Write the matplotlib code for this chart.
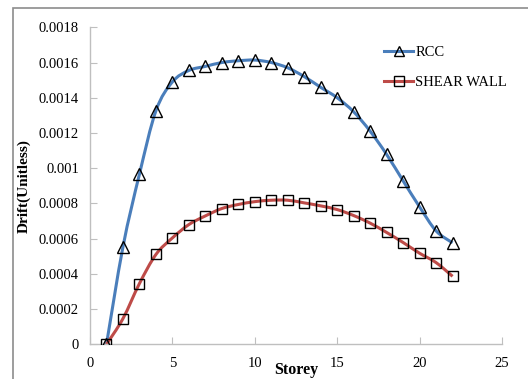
import numpy as np
import matplotlib.pyplot as plt
from matplotlib.path import Path
from matplotlib.patches import PathPatch, Rectangle
from matplotlib.lines import Line2D

plt.rcParams['font.family'] = ['Liberation Serif', 'DejaVu Serif']

storey = [1, 2, 3, 4, 5, 6, 7, 8, 9, 10, 11, 12, 13, 14, 15, 16, 17, 18, 19, 20, 21, 22]
rcc = [0.0, 0.000553, 0.000966, 0.001326, 0.00149, 0.001555, 0.001578, 0.0016,
       0.00161, 0.001614, 0.0016, 0.00157, 0.00152, 0.001459, 0.0014, 0.00132,
       0.00121, 0.001078, 0.000928, 0.00078, 0.000644, 0.000576]
shear_wall = [0.0, 0.000146, 0.000345, 0.00051, 0.000604, 0.00068, 0.000729, 0.000771,
              0.000794, 0.00081, 0.000818, 0.000818, 0.000803, 0.000786, 0.000765,
              0.000731, 0.000688, 0.000635, 0.000578, 0.000517, 0.000464, 0.000386]

blue = '#4a7ebb'
red = '#be4b48'
grey = '#bfbfbf'


def smooth_path(x, y):
    # cubic bezier segments through the points (catmull-rom tangents), like a spreadsheet "smoothed line"
    x = np.asarray(x, float)
    y = np.asarray(y, float)
    verts = [(x[0], y[0])]
    codes = [Path.MOVETO]
    n = len(x)
    for i in range(n - 1):
        p0 = (x[max(i - 1, 0)], y[max(i - 1, 0)])
        p1 = (x[i], y[i])
        p2 = (x[i + 1], y[i + 1])
        p3 = (x[min(i + 2, n - 1)], y[min(i + 2, n - 1)])
        c1 = (p1[0] + (p2[0] - p0[0]) / 6, p1[1] + (p2[1] - p0[1]) / 6)
        c2 = (p2[0] - (p3[0] - p1[0]) / 6, p2[1] - (p3[1] - p1[1]) / 6)
        verts += [c1, c2, p2]
        codes += [Path.CURVE4] * 3
    return Path(verts, codes)


fig = plt.figure(figsize=(5.28, 3.79), dpi=100)
ax = fig.add_axes([90 / 528, 1 - 344.3 / 379, 412 / 528, 317 / 379])

for vals, col, mk in [(rcc, blue, '^'), (shear_wall, red, 's')]:
    ax.add_patch(PathPatch(smooth_path(storey, vals), facecolor='none',
                           edgecolor=col, lw=2.2, zorder=2))
    ax.plot(storey, vals, linestyle='none', marker=mk, markersize=8 if mk == '^' else 7.5,
            markerfacecolor='none', markeredgecolor='black', markeredgewidth=1.0, zorder=3)

ax.set_xlim(0, 25)
ax.set_ylim(0, 0.0018)
ax.set_xticks([0, 5, 10, 15, 20, 25])
ax.set_yticks(np.arange(0, 0.00181, 0.0002))
ax.set_yticklabels(['0', '0.0002', '0.0004', '0.0006', '0.0008', '0.001',
                    '0.0012', '0.0014', '0.0016', '0.0018'])

for s in ['top', 'right']:
    ax.spines[s].set_visible(False)
for s in ['left', 'bottom']:
    ax.spines[s].set_color(grey)
    ax.spines[s].set_linewidth(1.0)
ax.tick_params(direction='in', length=5, color=grey, labelsize=10.5)
ax.tick_params(axis='y', pad=8)
ax.tick_params(axis='x', pad=9)

ax.set_ylabel('Drift(Unitless)', fontsize=11, fontweight='bold', labelpad=6)
ax.set_xlabel('Storey', fontsize=11.5, fontweight='bold', labelpad=-5.5)

handles = [
    Line2D([], [], color=blue, lw=2.2, marker='^', markersize=7,
           markerfacecolor='none', markeredgecolor='black'),
    Line2D([], [], color=red, lw=2.2, marker='s', markersize=6.5,
           markerfacecolor='none', markeredgecolor='black'),
]
fig.legend(handles, ['RCC', 'SHEAR WALL'], loc='upper left',
           bbox_to_anchor=(371 / 528, 1 - 33 / 379), frameon=False,
           fontsize=10.5, handlelength=2.0, handletextpad=0.15, labelspacing=1.15)

# chart area border
fig.patches.append(Rectangle((13 / 528, -0.1), 1.2, 1 + 0.1 - 8 / 379,
                             transform=fig.transFigure, fill=False,
                             edgecolor='#8c8c8c', lw=1.2))

fig.savefig('out.png', dpi=100)
